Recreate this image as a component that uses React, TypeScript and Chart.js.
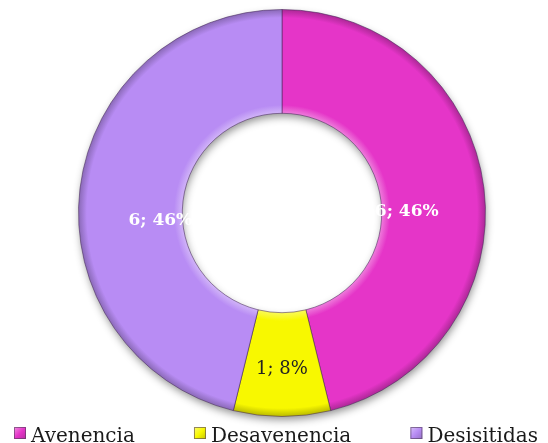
import React, { useEffect, useRef } from "react";
import { Chart, registerables } from "chart.js";

Chart.register(...registerables);

const categories = ["Avenencia", "Desavenencia", "Desisitidas"];
const values = [6, 1, 6];
const sliceColors = ["#E535C8", "#F8F800", "#B88CF4"];
const labelColors = ["#ffffff", "#222222", "#ffffff"];
const labelFonts = ['bold 17px "DejaVu Serif"', '18px "DejaVu Serif"', 'bold 17px "DejaVu Serif"'];
const labelRingFraction = [0.25, 0.55, 0.22];
const labelDy = [14, 0, 22];

const CUTOUT = 0.49;

function shade(hex: string, amt: number): string {
  const n = parseInt(hex.slice(1), 16);
  let r = (n >> 16) & 255, g = (n >> 8) & 255, b = n & 255;
  if (amt >= 0) {
    r = Math.round(r + (255 - r) * amt);
    g = Math.round(g + (255 - g) * amt);
    b = Math.round(b + (255 - b) * amt);
  } else {
    r = Math.round(r * (1 + amt));
    g = Math.round(g * (1 + amt));
    b = Math.round(b * (1 + amt));
  }
  return `rgb(${r},${g},${b})`;
}

function geom(chart: any) {
  const a = chart.chartArea;
  const cx = (a.left + a.right) / 2;
  const cy = (a.top + a.bottom) / 2;
  const outer = (Math.min(a.right - a.left, a.bottom - a.top) - 1) / 2;
  const inner = outer * CUTOUT;
  return { cx, cy, outer, inner };
}

const shadowPlugin = {
  id: "ringShadow",
  beforeDatasetsDraw(chart: any) {
    const { ctx } = chart;
    const { cx, cy, outer, inner } = geom(chart);
    ctx.save();
    ctx.shadowColor = "rgba(0,0,0,0.45)";
    ctx.shadowBlur = 9;
    ctx.shadowOffsetX = 1;
    ctx.shadowOffsetY = 4;
    ctx.beginPath();
    ctx.arc(cx, cy, outer - 1, 0, Math.PI * 2);
    ctx.arc(cx, cy, inner + 1, 0, Math.PI * 2, true);
    ctx.closePath();
    ctx.fillStyle = "#888";
    ctx.fill();
    ctx.restore();
  },
};

const labelPlugin = {
  id: "sliceLabels",
  afterDatasetsDraw(chart: any) {
    const { ctx } = chart;
    const meta = chart.getDatasetMeta(0);
    const total = values.reduce((s, v) => s + v, 0);
    meta.data.forEach((arc: any, i: number) => {
      const p = arc.getProps(["x", "y", "startAngle", "endAngle", "innerRadius", "outerRadius"], true);
      const mid = (p.startAngle + p.endAngle) / 2;
      const r = p.innerRadius + (p.outerRadius - p.innerRadius) * labelRingFraction[i];
      const x = p.x + r * Math.cos(mid);
      const y = p.y + r * Math.sin(mid) + labelDy[i];
      const pct = Math.round((values[i] / total) * 100);
      ctx.save();
      ctx.font = labelFonts[i];
      ctx.fillStyle = labelColors[i];
      ctx.textAlign = "center";
      ctx.textBaseline = "middle";
      ctx.fillText(`${values[i]}; ${pct}%`, x, y);
      ctx.restore();
    });
  },
};

const legendPlugin = {
  id: "spreadLegend",
  afterDraw(chart: any) {
    const { ctx, width, height } = chart;
    const box = 12;
    const gap = 5;
    const marginL = 14;
    const marginR = 10;
    ctx.save();
    ctx.font = '20px "DejaVu Serif"';
    const widths = categories.map((c) => box + gap + ctx.measureText(c).width);
    const totalW = widths.reduce((s, w) => s + w, 0);
    const space = (width - marginL - marginR - totalW) / (categories.length - 1);
    let x = marginL;
    const baseline = height - 1;
    const top = height - 16;
    categories.forEach((c, i) => {
      const g = ctx.createLinearGradient(x, top, x + box, top + box);
      g.addColorStop(0, shade(sliceColors[i], 0.45));
      g.addColorStop(0.5, sliceColors[i]);
      g.addColorStop(1, shade(sliceColors[i], -0.2));
      ctx.fillStyle = g;
      ctx.fillRect(x, top, box, box);
      ctx.strokeStyle = "rgba(80,60,90,0.6)";
      ctx.lineWidth = 1;
      ctx.strokeRect(x + 0.5, top + 0.5, box - 1, box - 1);
      ctx.fillStyle = "#1a1a1a";
      ctx.textBaseline = "alphabetic";
      ctx.textAlign = "left";
      ctx.fillText(c, x + box + gap, baseline);
      x += widths[i] + space;
    });
    ctx.restore();
  },
};

export default function App() {
  const ref = useRef<HTMLCanvasElement | null>(null);
  useEffect(() => {
    if (!ref.current) return;
    const chart = new Chart(ref.current, {
      type: "doughnut",
      data: {
        labels: categories,
        datasets: [
          {
            data: values,
            backgroundColor: (c: any) => {
              const chart = c.chart;
              const base = sliceColors[c.dataIndex];
              if (!chart.chartArea) return base;
              const { cx, cy, outer, inner } = geom(chart);
              const g = chart.ctx.createRadialGradient(cx, cy, inner, cx, cy, outer);
              g.addColorStop(0, shade(base, 0.35));
              g.addColorStop(0.08, base);
              g.addColorStop(0.92, base);
              g.addColorStop(1, shade(base, -0.25));
              return g;
            },
            borderColor: "rgba(70,40,90,0.55)",
            borderWidth: 1,
          },
        ],
      },
      options: {
        responsive: false,
        animation: false,
        cutout: `${CUTOUT * 100}%`,
        layout: { padding: { left: 16, right: 0, top: 9, bottom: 26 } },
        plugins: {
          legend: { display: false },
          tooltip: { enabled: false },
        },
      },
      plugins: [shadowPlugin, labelPlugin, legendPlugin],
    });
    return () => chart.destroy();
  }, []);
  return (
    <div style={{ position: "fixed", left: 0, top: 0, width: 548, height: 443, background: "#fff" }}>
      <canvas ref={ref} width={548} height={443} />
    </div>
  );
}
